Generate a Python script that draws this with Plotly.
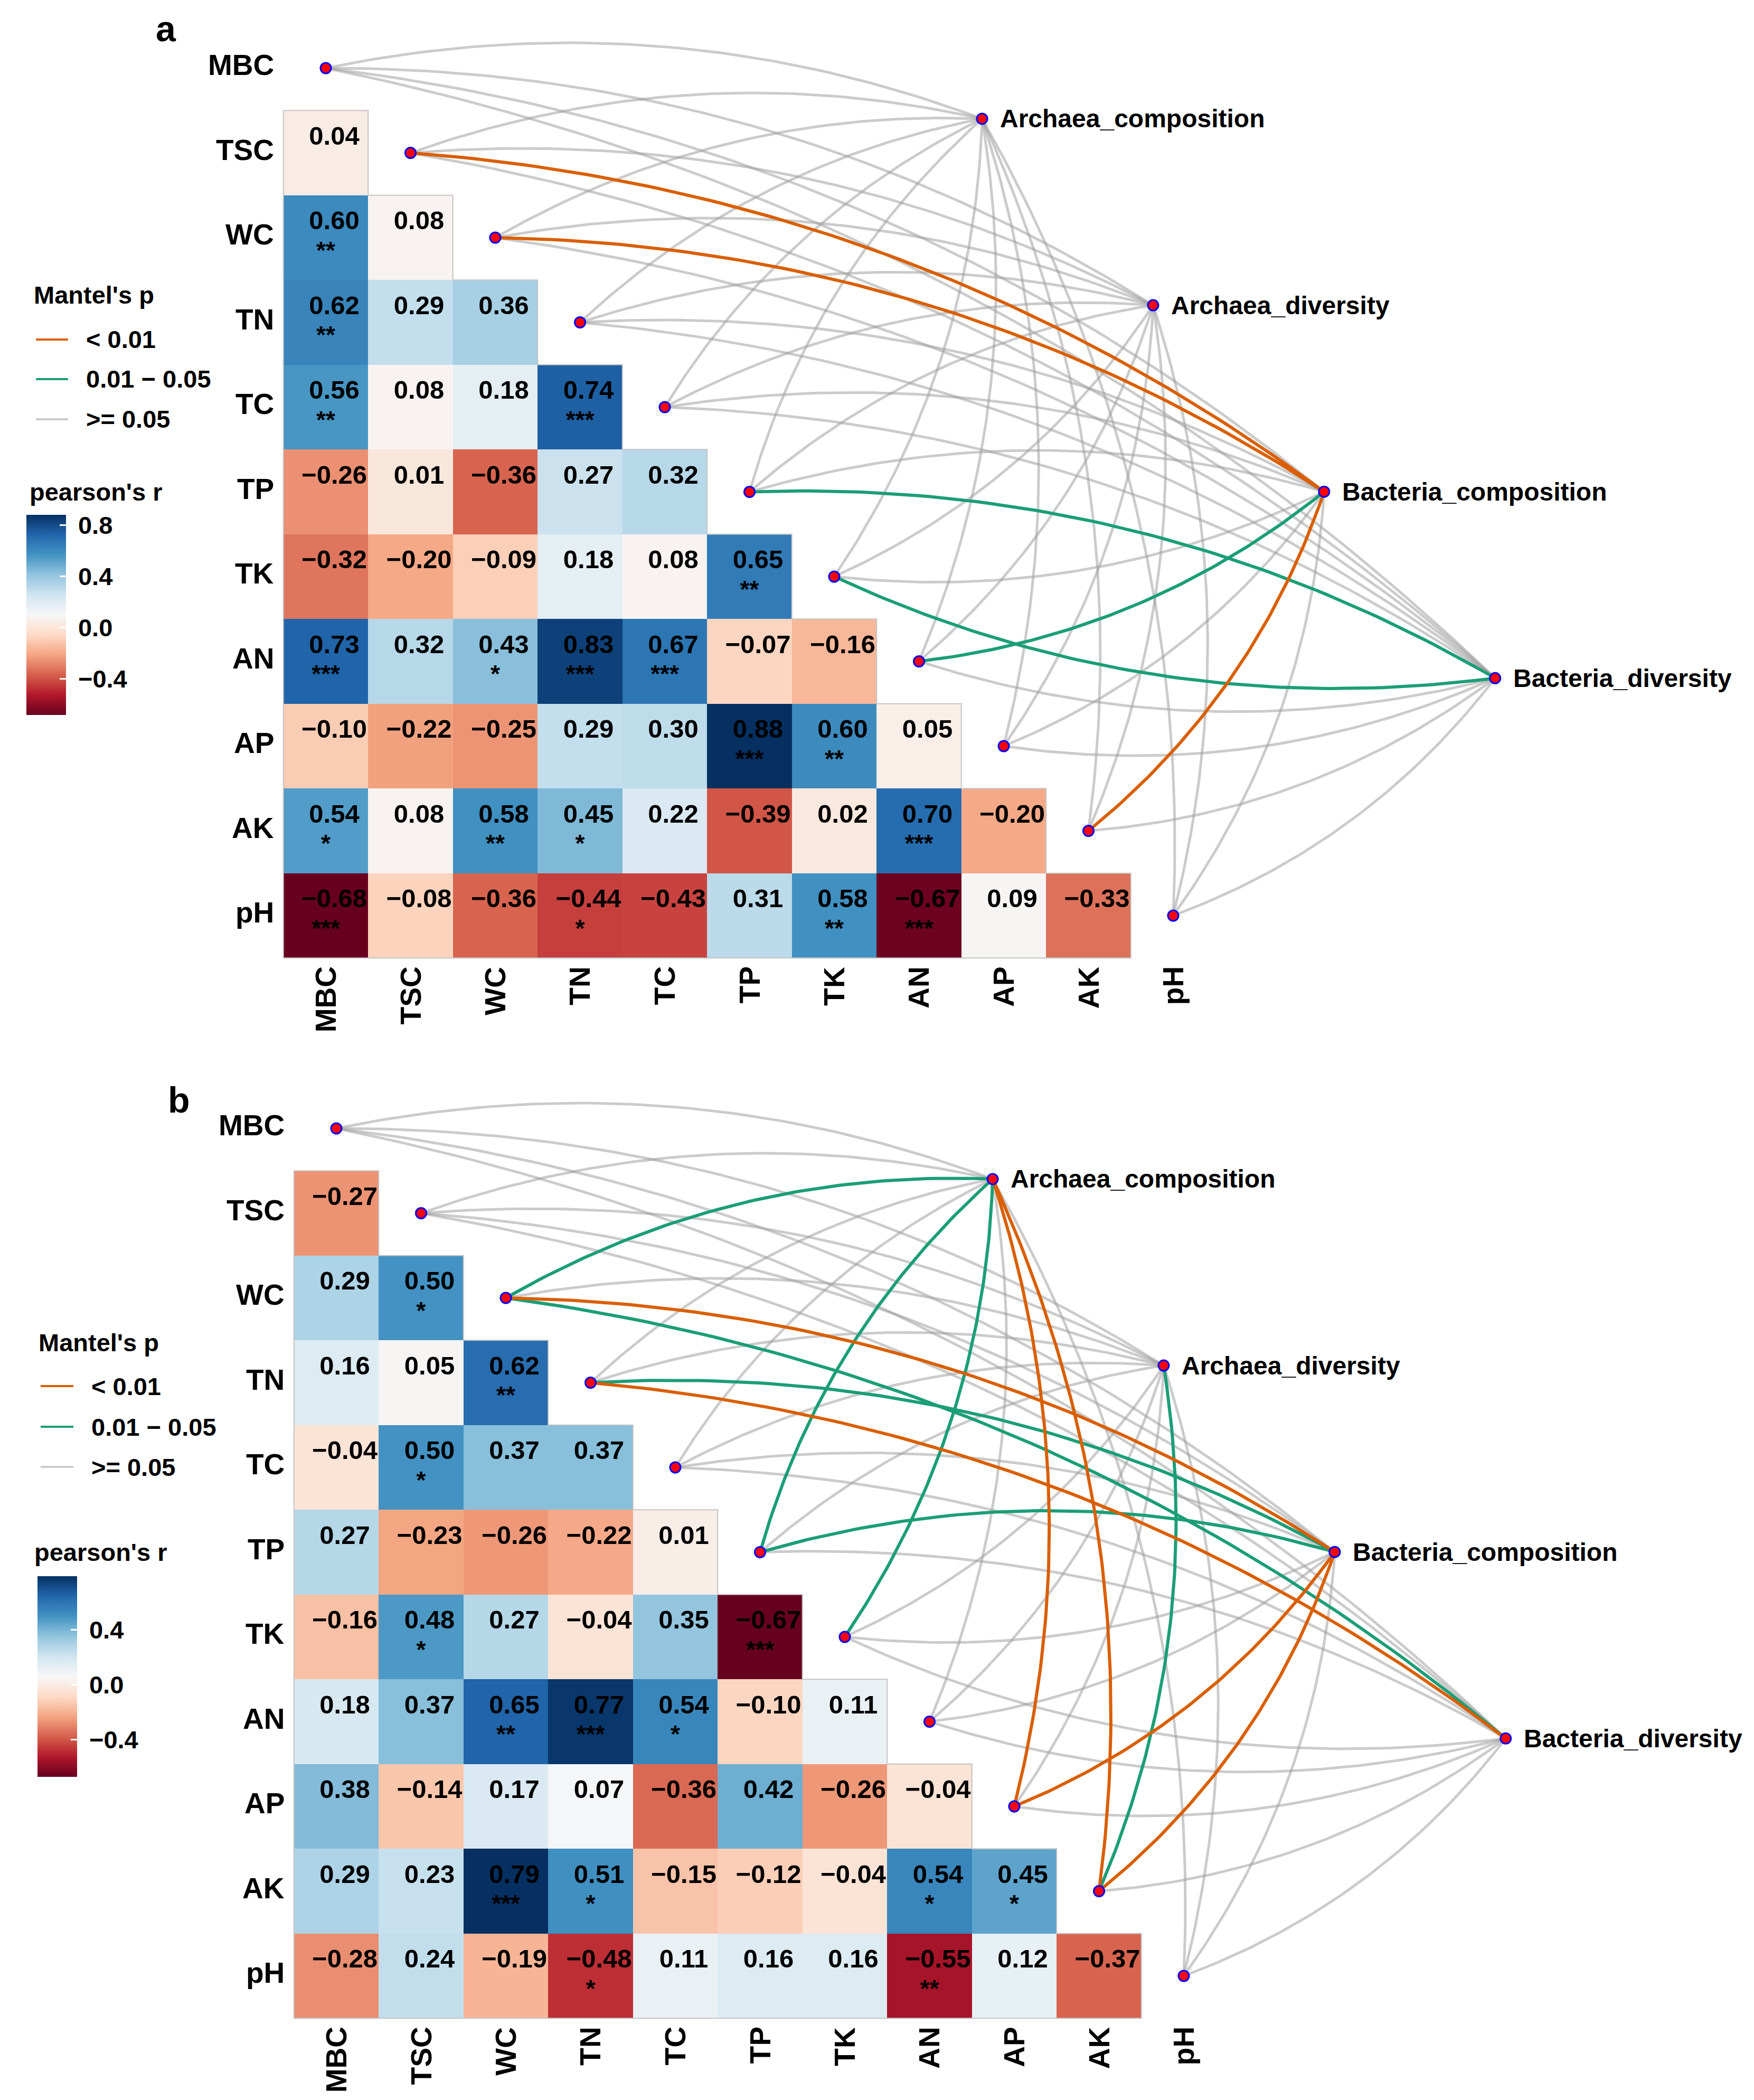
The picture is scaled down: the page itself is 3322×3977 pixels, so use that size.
import numpy as np
import plotly.graph_objects as go

W, H = 3322, 3977
FONT = "Liberation Sans"

# ---------------- data ----------------
VARS = ["MBC", "TSC", "WC", "TN", "TC", "TP", "TK", "AN", "AP", "AK", "pH"]
ENVS = ["Archaea_composition", "Archaea_diversity", "Bacteria_composition", "Bacteria_diversity"]

# lower-triangle Pearson r (rows TSC..pH, columns MBC..)
R_A = [
    [0.04],
    [0.60, 0.08],
    [0.62, 0.29, 0.36],
    [0.56, 0.08, 0.18, 0.74],
    [-0.26, 0.01, -0.36, 0.27, 0.32],
    [-0.32, -0.20, -0.09, 0.18, 0.08, 0.65],
    [0.73, 0.32, 0.43, 0.83, 0.67, -0.07, -0.16],
    [-0.10, -0.22, -0.25, 0.29, 0.30, 0.88, 0.60, 0.05],
    [0.54, 0.08, 0.58, 0.45, 0.22, -0.39, 0.02, 0.70, -0.20],
    [-0.68, -0.08, -0.36, -0.44, -0.43, 0.31, 0.58, -0.67, 0.09, -0.33],
]
STARS_A = [
    [""],
    ["**", ""],
    ["**", "", ""],
    ["**", "", "", "***"],
    ["", "", "", "", ""],
    ["", "", "", "", "", "**"],
    ["***", "", "*", "***", "***", "", ""],
    ["", "", "", "", "", "***", "**", ""],
    ["*", "", "**", "*", "", "", "", "***", ""],
    ["***", "", "", "*", "", "", "**", "***", "", ""],
]
R_B = [
    [-0.27],
    [0.29, 0.50],
    [0.16, 0.05, 0.62],
    [-0.04, 0.50, 0.37, 0.37],
    [0.27, -0.23, -0.26, -0.22, 0.01],
    [-0.16, 0.48, 0.27, -0.04, 0.35, -0.67],
    [0.18, 0.37, 0.65, 0.77, 0.54, -0.10, 0.11],
    [0.38, -0.14, 0.17, 0.07, -0.36, 0.42, -0.26, -0.04],
    [0.29, 0.23, 0.79, 0.51, -0.15, -0.12, -0.04, 0.54, 0.45],
    [-0.28, 0.24, -0.19, -0.48, 0.11, 0.16, 0.16, -0.55, 0.12, -0.37],
]
STARS_B = [
    [""],
    ["", "*"],
    ["", "", "**"],
    ["", "*", "", ""],
    ["", "", "", "", ""],
    ["", "*", "", "", "", "***"],
    ["", "", "**", "***", "*", "", ""],
    ["", "", "", "", "", "", "", ""],
    ["", "", "***", "*", "", "", "", "*", "*"],
    ["", "", "", "*", "", "", "", "**", "", ""],
]

P_LEVELS = ["< 0.01", "0.01 \u2212 0.05", ">= 0.05"]
# Mantel links with p < 0.05 (all other links are ">= 0.05")
MANTEL_A = [
    ("TSC", "Bacteria_composition", "< 0.01"),
    ("WC", "Bacteria_composition", "< 0.01"),
    ("TP", "Bacteria_diversity", "0.01 \u2212 0.05"),
    ("TK", "Bacteria_diversity", "0.01 \u2212 0.05"),
    ("AN", "Bacteria_composition", "0.01 \u2212 0.05"),
    ("AK", "Bacteria_composition", "< 0.01"),
]
MANTEL_B = [
    ("WC", "Archaea_composition", "0.01 \u2212 0.05"),
    ("WC", "Bacteria_composition", "< 0.01"),
    ("WC", "Bacteria_diversity", "0.01 \u2212 0.05"),
    ("TN", "Bacteria_composition", "0.01 \u2212 0.05"),
    ("TN", "Bacteria_diversity", "< 0.01"),
    ("TP", "Archaea_composition", "0.01 \u2212 0.05"),
    ("TP", "Bacteria_composition", "0.01 \u2212 0.05"),
    ("TK", "Archaea_composition", "0.01 \u2212 0.05"),
    ("AP", "Archaea_composition", "< 0.01"),
    ("AP", "Bacteria_composition", "< 0.01"),
    ("AK", "Archaea_composition", "< 0.01"),
    ("AK", "Archaea_diversity", "0.01 \u2212 0.05"),
    ("AK", "Bacteria_composition", "< 0.01"),
]

CB_TICKS = [0.8, 0.4, 0.0, -0.4]

# ---------------- styles ----------------
RDBU = ["#67001F", "#B2182B", "#D6604D", "#F4A582", "#FDDBC7", "#F7F7F7",
        "#D1E5F0", "#92C5DE", "#4393C3", "#2166AC", "#053061"]
COLORSCALE = [[i / (len(RDBU) - 1), c] for i, c in enumerate(RDBU)]
LINK_COLOR = {P_LEVELS[0]: "#D95F02", P_LEVELS[1]: "#1B9E77", P_LEVELS[2]: "rgba(160,160,160,0.55)"}
LINK_WIDTH = {P_LEVELS[0]: 6, P_LEVELS[1]: 6, P_LEVELS[2]: 5}
LEGEND_LINE = {P_LEVELS[0]: "#D95F02", P_LEVELS[1]: "#1B9E77", P_LEVELS[2]: "#CCCCCC"}

ENV_X0, ENV_DX, ENV_Y0, ENV_DY = 7.745, 2.018, 0.598, 2.2
SAG = 0.072


def fnt(size, color="black"):
    return dict(family=FONT, size=size, color=color, weight="bold")


def fmt(v):
    return f"{v:.2f}".replace("-", "\u2212")


def px(x, y):
    return x / W, 1 - y / H


fig = go.Figure()
annotations = []
shapes = []


def build_panel(xa, ya, R, STARS, MANTEL, cb, leg):
    n = len(VARS)
    # ---- heatmap ----
    z = [[R[i][j] if j < len(R[i]) else None for j in range(n - 1)] for i in range(n - 1)]
    flat = [v for row in R for v in row]
    fig.add_trace(go.Heatmap(
        x=list(range(n - 1)), y=list(range(1, n)), z=z,
        zmin=min(flat), zmax=max(flat), colorscale=COLORSCALE,
        xaxis=xa, yaxis=ya, hoverinfo="skip", xgap=0, ygap=0,
        colorbar=dict(
            x=cb["x"] / W, xanchor="left", xpad=0,
            y=1 - cb["top"] / H, yanchor="top", ypad=0,
            len=cb["len"], lenmode="pixels", thickness=75, thicknessmode="pixels",
            outlinewidth=0, borderwidth=0,
            tickvals=CB_TICKS, ticktext=["\u00a0" + f"{t:.1f}".replace("-", "\u2212") for t in CB_TICKS],
            ticks="inside", ticklen=12, tickwidth=3, tickcolor="white",
            tickfont=fnt(47),
        ),
    ))
    # ---- outline of triangle ----
    ox, oy = [-0.5], [0.5]
    for i in range(1, n):
        ox += [i - 0.5, i - 0.5]
        oy += [i - 0.5, i + 0.5]
    ox += [-0.5, -0.5]
    oy += [n - 0.5, 0.5]
    fig.add_trace(go.Scatter(x=ox, y=oy, mode="lines", xaxis=xa, yaxis=ya,
                             line=dict(color="#C4C4C4", width=2), hoverinfo="skip"))
    # ---- cell text ----
    tx, ty, tt, sx, sy, st = [], [], [], [], [], []
    for i in range(1, n):
        for j, v in enumerate(R[i - 1]):
            tx.append(j + 0.1); ty.append(i - 0.175); tt.append(fmt(v))
            if STARS[i - 1][j]:
                sx.append(j); sy.append(i + 0.175); st.append(STARS[i - 1][j])
    fig.add_trace(go.Scatter(x=tx, y=ty, text=tt, mode="text", textposition="middle center",
                             textfont=fnt(49), xaxis=xa, yaxis=ya, hoverinfo="skip"))
    fig.add_trace(go.Scatter(x=sx, y=sy, text=st, mode="text", textposition="middle center",
                             textfont=fnt(46), xaxis=xa, yaxis=ya, hoverinfo="skip"))
    # ---- links ----
    ex = [ENV_X0 + k * ENV_DX for k in range(len(ENVS))]
    ey = [ENV_Y0 + k * ENV_DY for k in range(len(ENVS))]
    lvl = {(v, e): p for v, e, p in MANTEL}
    groups = {p: ([], []) for p in P_LEVELS}
    t = np.linspace(0, 1, 80)
    for i, var in enumerate(VARS):
        for k, env in enumerate(ENVS):
            p = lvl.get((var, env), P_LEVELS[2])
            x0, y0, x1, y1 = i, i, ex[k], ey[k]
            dx, dy = x1 - x0, y1 - y0
            L = np.hypot(dx, dy)
            if i <= 5:
                nx, ny = dy / L, -dx / L
            else:
                nx, ny = -dy / L, dx / L
            cx = (x0 + x1) / 2 + nx * 2 * SAG * L
            cy = (y0 + y1) / 2 + ny * 2 * SAG * L
            bx = (1 - t) ** 2 * x0 + 2 * t * (1 - t) * cx + t ** 2 * x1
            by = (1 - t) ** 2 * y0 + 2 * t * (1 - t) * cy + t ** 2 * y1
            groups[p][0].extend(list(bx) + [None])
            groups[p][1].extend(list(by) + [None])
    for p in [P_LEVELS[2], P_LEVELS[1], P_LEVELS[0]]:
        fig.add_trace(go.Scatter(x=groups[p][0], y=groups[p][1], mode="lines", xaxis=xa, yaxis=ya,
                                 line=dict(color=LINK_COLOR[p], width=LINK_WIDTH[p]), hoverinfo="skip"))
    # ---- nodes ----
    fig.add_trace(go.Scatter(x=list(range(n)) + ex, y=list(range(n)) + ey, mode="markers",
                             xaxis=xa, yaxis=ya, hoverinfo="skip",
                             marker=dict(size=20, color="#FF0000", line=dict(color="#0000FF", width=3))))
    for k, env in enumerate(ENVS):
        annotations.append(dict(x=ex[k] + 0.2, y=ey[k], xref=xa, yref=ya, text=env, showarrow=False,
                                xanchor="left", yanchor="middle", font=fnt(48)))
    for i, var in enumerate(VARS):
        annotations.append(dict(x=-0.6, y=i - 0.035, xref=xa, yref=ya, text=var, showarrow=False,
                                xanchor="right", yanchor="middle", font=fnt(55)))
        annotations.append(dict(x=i, y=n - 0.5 + 0.09, xref=xa, yref=ya, text=var, showarrow=False,
                                xanchor="center", yanchor="top", textangle=-90, font=fnt(55)))
    # ---- legends ----
    lx, ly = px(leg["x"], leg["title_y"])
    annotations.append(dict(x=lx, y=ly, xref="paper", yref="paper", text="Mantel's p", showarrow=False,
                            xanchor="left", yanchor="middle", font=fnt(47)))
    for m, p in enumerate(P_LEVELS):
        yy = leg["item_y"][m]
        a0, b0 = px(leg["line_x"][0], yy)
        a1, _ = px(leg["line_x"][1], yy)
        shapes.append(dict(type="line", xref="paper", yref="paper", x0=a0, x1=a1, y0=b0, y1=b0,
                           line=dict(color=LEGEND_LINE[p], width=4)))
        tx_, ty_ = px(leg["text_x"], yy)
        annotations.append(dict(x=tx_, y=ty_, xref="paper", yref="paper", text=p, showarrow=False,
                                xanchor="left", yanchor="middle", font=fnt(47)))
    cx_, cy_ = px(leg["x"] - 8, leg["cb_title_y"])
    annotations.append(dict(x=cx_, y=cy_, xref="paper", yref="paper", text="pearson's r", showarrow=False,
                            xanchor="left", yanchor="middle", font=fnt(47)))
    pxl, pyl = px(leg["panel_xy"][0], leg["panel_xy"][1])
    annotations.append(dict(x=pxl, y=pyl, xref="paper", yref="paper", text=leg["panel"], showarrow=False,
                            xanchor="center", yanchor="middle", font=fnt(68)))


build_panel("x", "y", R_A, STARS_A, MANTEL_A,
            cb=dict(x=42, top=967, len=379),
            leg=dict(x=54, title_y=550, line_x=(60, 121), item_y=(635, 710, 786), text_x=153,
                     cb_title_y=923, panel="a", panel_xy=(306, 46)))
build_panel("x2", "y2", R_B, STARS_B, MANTEL_B,
            cb=dict(x=63, top=2977, len=380),
            leg=dict(x=63, title_y=2534, line_x=(69, 131), item_y=(2617, 2694, 2770), text_x=163,
                     cb_title_y=2931, panel="b", panel_xy=(331, 2075)))

CELL = 160.5
ax_common = dict(visible=False, showgrid=False, zeroline=False, fixedrange=True)
fig.update_layout(
    width=W, height=H, margin=dict(l=0, r=0, t=0, b=0),
    paper_bgcolor="white", plot_bgcolor="rgba(0,0,0,0)", showlegend=False,
    xaxis=dict(domain=[0, 1], range=[(0 - 609) / CELL, (W - 609) / CELL], anchor="y", **ax_common),
    yaxis=dict(domain=[0.5, 1], range=[(H / 2 - 121) / CELL, (0 - 121) / CELL], anchor="x", **ax_common),
    xaxis2=dict(domain=[0, 1], range=[(0 - 629) / CELL, (W - 629) / CELL], anchor="y2", **ax_common),
    yaxis2=dict(domain=[0, 0.5], range=[(H - 2129) / CELL, (H / 2 - 2129) / CELL], anchor="x2", **ax_common),
    annotations=annotations, shapes=shapes,
)
fig.write_html("out.html")
